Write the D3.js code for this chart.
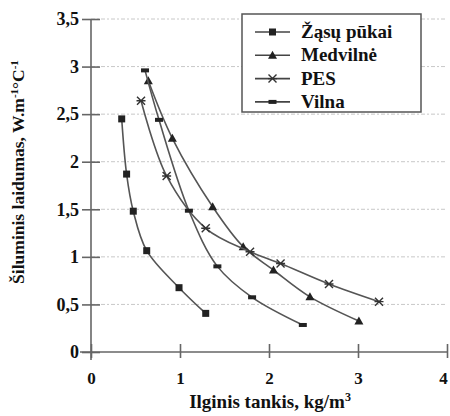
<!DOCTYPE html>
<html>
<head>
<meta charset="utf-8">
<script src="https://cdn.jsdelivr.net/npm/d3@7"></script>
<style>
body { margin: 0; background: #fff; }
svg text { font-family: 'Liberation Serif', 'DejaVu Serif', serif; font-weight: bold; fill: #111; }
</style>
</head>
<body>
<script>
var seriesNames = ['Žąsų pūkai', 'Medvilnė', 'PES', 'Vilna'];
var pukaiX = [0.345, 0.40, 0.475, 0.626, 0.989, 1.289];
var pukaiY = [2.45, 1.87, 1.48, 1.065, 0.676, 0.406];
var medvilneX = [0.644, 0.914, 1.367, 1.71, 2.05, 2.46, 3.01];
var medvilneY = [2.85, 2.246, 1.527, 1.107, 0.862, 0.58, 0.326];
var pesX = [0.562, 0.85, 1.289, 1.787, 2.13, 2.674, 3.236];
var pesY = [2.64, 1.85, 1.30, 1.054, 0.93, 0.715, 0.529];
var vilnaX = [0.607, 0.764, 1.10, 1.42, 1.81, 2.38];
var vilnaY = [2.96, 2.44, 1.485, 0.90, 0.575, 0.284];
var xTicks = [0, 1, 2, 3, 4];
var yTicks = [0, 0.5, 1, 1.5, 2, 2.5, 3, 3.5];

var width = 450, height = 416;
var serif = "'Liberation Serif', 'DejaVu Serif', serif";

var x = d3.scaleLinear().domain([0, 4]).range([91, 447]);
var y = d3.scaleLinear().domain([0, 3.5]).range([352, 19]);

var svg = d3.select("body").append("svg")
    .attr("width", width)
    .attr("height", height)
    .attr("font-family", serif);

// gridlines
svg.append("g").selectAll("line")
    .data(yTicks.filter(function(d){ return d > 0; }))
    .enter().append("line")
    .attr("x1", x(0)).attr("x2", x(4))
    .attr("y1", function(d){ return y(d); })
    .attr("y2", function(d){ return y(d); })
    .attr("stroke", "#c8c8c8")
    .attr("stroke-width", 1)
    .attr("stroke-dasharray", "4,2,2,2");

// axes
var fmt = function(d){ return String(d).replace('.', ','); };
var yAxis = d3.axisLeft(y).tickValues(yTicks).tickFormat(fmt).tickSizeInner(9).tickSizeOuter(0).tickPadding(4);
var xAxis = d3.axisBottom(x).tickValues(xTicks).tickFormat(fmt).tickSizeInner(6).tickSizeOuter(0).tickPadding(14);

var gy = svg.append("g").attr("transform", "translate(" + x(0) + ",0)").call(yAxis);
gy.selectAll(".tick line").attr("x2", 9).attr("x1", -9);
gy.select(".domain").attr("d", "M0," + y(3.5) + "V" + (y(0) + 8));

var gx = svg.append("g").attr("transform", "translate(0," + y(0) + ")").call(xAxis);
gx.selectAll(".tick line").attr("y1", -8).attr("y2", 6);
gx.select(".domain").attr("d", "M" + (x(0) - 11) + ",0H" + x(4));

[gx, gy].forEach(function(g){
    g.attr("font-family", serif);
    g.selectAll(".domain, .tick line").attr("stroke", "#666").attr("stroke-width", 1.6);
    g.selectAll(".tick text").style("font-size", "17px").attr("fill", "#111");
});
gy.selectAll(".tick text").attr("x", -12).style("font-size", "18px");
gx.selectAll(".tick text").filter(function(d){ return d === 4; }).attr("dx", -4);

// series
var series = [
    { name: seriesNames[0], xs: pukaiX, ys: pukaiY, marker: 'square' },
    { name: seriesNames[1], xs: medvilneX, ys: medvilneY, marker: 'triangle' },
    { name: seriesNames[2], xs: pesX, ys: pesY, marker: 'star' },
    { name: seriesNames[3], xs: vilnaX, ys: vilnaY, marker: 'dash' }
];

var line = d3.line()
    .x(function(d){ return x(d[0]); })
    .y(function(d){ return y(d[1]); })
    .curve(d3.curveCatmullRom.alpha(0.5));

function drawMarker(g, type, cx, cy) {
    if (type === 'square') {
        g.append("rect").attr("x", cx - 3.5).attr("y", cy - 3.5).attr("width", 7).attr("height", 7).attr("fill", "#222");
    } else if (type === 'triangle') {
        g.append("path").attr("d", "M" + cx + "," + (cy - 4.5) + "L" + (cx + 4.5) + "," + (cy + 3.5) + "L" + (cx - 4.5) + "," + (cy + 3.5) + "Z").attr("fill", "#222");
    } else if (type === 'star') {
        g.append("path")
            .attr("d", "M" + (cx - 4) + "," + (cy - 4) + "L" + (cx + 4) + "," + (cy + 4) +
                "M" + (cx - 4) + "," + (cy + 4) + "L" + (cx + 4) + "," + (cy - 4) +
                "M" + (cx - 4.5) + "," + cy + "L" + (cx + 4.5) + "," + cy)
            .attr("stroke", "#333").attr("stroke-width", 1.4).attr("fill", "none");
    } else {
        g.append("rect").attr("x", cx - 4).attr("y", cy - 2).attr("width", 8).attr("height", 4).attr("fill", "#222");
    }
}

series.forEach(function(s){
    var pts = s.xs.map(function(v, i){ return [v, s.ys[i]]; });
    svg.append("path")
        .attr("d", line(pts))
        .attr("fill", "none")
        .attr("stroke", "#555")
        .attr("stroke-width", 1.6);
    var mg = svg.append("g");
    pts.forEach(function(p){ drawMarker(mg, s.marker, x(p[0]), y(p[1])); });
});

// legend
var legend = svg.append("g");
legend.append("rect")
    .attr("x", 242).attr("y", 14).attr("width", 179).attr("height", 98)
    .attr("fill", "#fff").attr("stroke", "#555").attr("stroke-width", 1.5);
series.forEach(function(s, i){
    var ly = 32 + i * 23.3;
    legend.append("line").attr("x1", 255).attr("x2", 290).attr("y1", ly).attr("y2", ly)
        .attr("stroke", "#444").attr("stroke-width", 1.6);
    drawMarker(legend, s.marker, 272.5, ly);
    legend.append("text").attr("x", 301).attr("y", ly + 6)
        .style("font-size", "19px").text(s.name);
});

// axis titles
svg.append("text")
    .attr("x", 270).attr("y", 408)
    .attr("text-anchor", "middle")
    .style("font-size", "19px")
    .html('Ilginis tankis, kg/m<tspan dy="-7" style="font-size:12px">3</tspan>');

svg.append("text")
    .attr("transform", "translate(24,172) rotate(-90)")
    .attr("text-anchor", "middle")
    .style("font-size", "17.5px")
    .html('Šiluminis laidumas,  W.m<tspan dy="-6" style="font-size:11px">-1</tspan><tspan dy="6">°C</tspan><tspan dy="-6" style="font-size:11px">-1</tspan>');
</script>
</body>
</html>
